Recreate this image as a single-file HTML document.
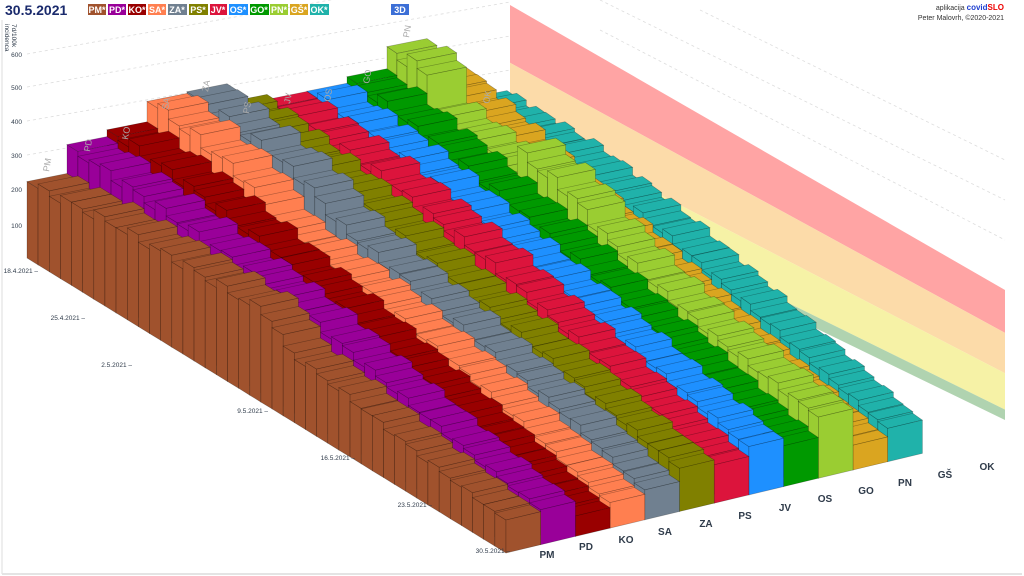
<!DOCTYPE html>
<html><head><meta charset="utf-8"><style>
html,body{margin:0;padding:0;background:#fff;}
svg{display:block;font-family:"Liberation Sans",sans-serif;}
</style></head><body>
<svg id="s" width="1024" height="576" viewBox="0 0 1024 576" xmlns="http://www.w3.org/2000/svg">
<rect x="0" y="0" width="1024" height="576" fill="#fff"/>
<line x1="2" y1="20" x2="2" y2="574" stroke="#ddd"/>
<line x1="2" y1="574" x2="1022" y2="574" stroke="#e4e4e4" stroke-width="2"/>
<g stroke="#ddd" stroke-width="0.8" stroke-dasharray="3,3" fill="none">
<line x1="27" y1="54" x2="420" y2="-16"/>
<line x1="27" y1="87" x2="510" y2="2"/>
<line x1="27" y1="121" x2="510" y2="36"/>
<line x1="27" y1="155" x2="510" y2="70"/>
<line x1="27" y1="189" x2="510" y2="104"/>
<line x1="27" y1="225" x2="510" y2="140"/>
<line x1="600" y1="30" x2="1005" y2="240"/>
<line x1="600" y1="0" x2="1005" y2="200"/>
<line x1="700" y1="10" x2="1005" y2="160"/>
</g>
<g id="plane"></g>
<g id="bars"></g>
<g font-size="9" fill="#aaa">
<text transform="translate(49,172) rotate(-80)">PM</text>
<text transform="translate(90,152) rotate(-80)">PD</text>
<text transform="translate(128,140) rotate(-80)">KO</text>
<text transform="translate(168,110) rotate(-80)">SA</text>
<text transform="translate(208,92) rotate(-80)">ZA</text>
<text transform="translate(249,114) rotate(-80)">PS</text>
<text transform="translate(290,104) rotate(-80)">JV</text>
<text transform="translate(330,102) rotate(-80)">OS</text>
<text transform="translate(369,84) rotate(-80)">GO</text>
<text transform="translate(409,38) rotate(-80)">PN</text>
<text transform="translate(489,104) rotate(-80)">OK</text>
</g>
<g font-size="6.5" fill="#2f3b4a" text-anchor="end">
<text x="22" y="57">600</text><text x="22" y="90">500</text><text x="22" y="124">400</text>
<text x="22" y="158">300</text><text x="22" y="192">200</text><text x="22" y="228">100</text>
<text x="38" y="273">18.4.2021 –</text>
<text x="85" y="320">25.4.2021 –</text>
<text x="132" y="367">2.5.2021 –</text>
<text x="268" y="413">9.5.2021 –</text>
<text x="355" y="460">16.5.2021 –</text>
<text x="432" y="507">23.5.2021 –</text>
<text x="510" y="553">30.5.2021 –</text>
</g>
<g font-size="6.5" fill="#2f3b4a">
<text transform="translate(12,24) rotate(90)">7d/100k</text>
<text transform="translate(5,24) rotate(90)">incidenca</text>
</g>
<g font-size="10" fill="#2f3b4a" font-weight="bold" text-anchor="middle">
<text x="547" y="558">PM</text><text x="586" y="550">PD</text><text x="626" y="543">KO</text>
<text x="665" y="535">SA</text><text x="706" y="527">ZA</text><text x="745" y="519">PS</text>
<text x="785" y="511">JV</text><text x="825" y="502">OS</text><text x="866" y="494">GO</text>
<text x="905" y="486">PN</text><text x="945" y="478">GŠ</text><text x="987" y="470">OK</text>
</g>
<text x="5" y="15" font-size="14" font-weight="bold" fill="#1a2a6c">30.5.2021</text>
<g font-size="9" font-weight="bold" fill="#fff" text-anchor="middle">
<rect x="88" y="4" width="18" height="11" fill="#a0522d"/><text x="97" y="13">PM*</text>
<rect x="108" y="4" width="18" height="11" fill="#990099"/><text x="117" y="13">PD*</text>
<rect x="128" y="4" width="18" height="11" fill="#990000"/><text x="137" y="13">KO*</text>
<rect x="148" y="4" width="18" height="11" fill="#ff7f50"/><text x="157" y="13">SA*</text>
<rect x="168" y="4" width="19" height="11" fill="#708090"/><text x="177" y="13">ZA*</text>
<rect x="189" y="4" width="19" height="11" fill="#808000"/><text x="198" y="13">PS*</text>
<rect x="210" y="4" width="17" height="11" fill="#dc143c"/><text x="218" y="13">JV*</text>
<rect x="229" y="4" width="19" height="11" fill="#1e90ff"/><text x="238" y="13">OS*</text>
<rect x="250" y="4" width="19" height="11" fill="#009900"/><text x="259" y="13">GO*</text>
<rect x="270" y="4" width="18" height="11" fill="#9acd32"/><text x="279" y="13">PN*</text>
<rect x="290" y="4" width="18" height="11" fill="#daa520"/><text x="299" y="13">GŠ*</text>
<rect x="310" y="4" width="19" height="11" fill="#20b2aa"/><text x="319" y="13">OK*</text>
<rect x="391" y="4" width="18" height="11" fill="#3c6fd6"/><text x="400" y="13">3D</text>
</g>
<text x="1004" y="10" font-size="7" fill="#333" text-anchor="end">aplikacija <tspan font-weight="bold" font-size="8" fill="#1e3fd0">covid</tspan><tspan font-weight="bold" font-size="8" fill="#e00">SLO</tspan></text>
<text x="1004" y="20" font-size="7" fill="#333" text-anchor="end">Peter Malovrh, ©2020-2021</text>
</svg>
<script>
(function(){
var NS="http://www.w3.org/2000/svg";
function P(c,t,h){var cdx=40-5.3*t/43,cdy=8+0.3*t/43;
 return [27+11.14*t+c*cdx, 258+6.86*t-c*cdy-h*0.34];}
function poly(g,pts,fill,stroke,op){var p=document.createElementNS(NS,"polygon");
 p.setAttribute("points",pts.map(function(q){return q[0].toFixed(1)+","+q[1].toFixed(1)}).join(" "));
 p.setAttribute("fill",fill); if(stroke){p.setAttribute("stroke",stroke);p.setAttribute("stroke-width","0.6");}
 if(op!=null)p.setAttribute("fill-opacity",op); g.appendChild(p);}
var pl=document.getElementById("plane");
var bands=[[0,0.33,"#ff9a9a",0.9],[0.33,0.64,"#fbd59a",0.85],[0.64,0.92,"#f4f096",0.85],[0.92,1,"#9cc89c",0.8]];
function pp(f,side){ if(side==0)return [510,5+f*175]; return [1005,290+f*130];}
bands.forEach(function(b){poly(pl,[pp(b[0],0),pp(b[0],1),pp(b[1],1),pp(b[1],0)],b[2],null,b[3]);});
var cols=["#a0522d","#990099","#990000","#ff7f50","#708090","#808000","#dc143c","#1e90ff","#009900","#9acd32","#daa520","#20b2aa"];
var keys=[
[[0,225],[7,255],[14,265],[21,270],[23,200],[28,175],[35,130],[42,97]],
[[0,310],[8,290],[15,270],[22,240],[30,180],[36,140],[42,103]],
[[0,330],[6,320],[14,280],[22,230],[30,170],[36,120],[42,60]],
[[0,390],[3,380],[8,350],[12,260],[20,240],[30,180],[42,75]],
[[0,395],[10,360],[14,290],[25,220],[35,160],[42,88]],
[[0,340],[12,300],[20,250],[30,200],[42,127]],
[[0,325],[10,320],[20,280],[30,210],[42,113]],
[[0,326],[10,310],[20,260],[30,210],[42,142]],
[[0,345],[8,320],[20,270],[30,200],[42,120]],
[[0,410],[3,410],[4,310],[10,300],[12,290],[13,360],[18,340],[20,300],[25,250],[32,210],[42,180]],
[[0,300],[10,250],[20,200],[30,140],[42,73]],
[[0,210],[10,240],[20,215],[30,165],[42,98]]];
function val(i,d){var k=keys[i];for(var j=0;j<k.length-1;j++){if(d>=k[j][0]&&d<=k[j+1][0]){var f=(d-k[j][0])/(k[j+1][0]-k[j][0]);
 var v=k[j][1]+f*(k[j+1][1]-k[j][1]); if(d>0&&d<42)v*=1+0.05*Math.sin(d*2.3+i*1.7); return v;}} return k[k.length-1][1];}
var g=document.getElementById("bars");
for(var i=11;i>=0;i--){for(var d=0;d<43;d++){var h=val(i,d),c=cols[i],st="rgba(0,0,0,0.3)";
 poly(g,[P(i,d,0),P(i,d+1,0),P(i,d+1,h),P(i,d,h)],c,st);
 poly(g,[P(i,d,h),P(i+1,d,h),P(i+1,d+1,h),P(i,d+1,h)],c,st);
 poly(g,[P(i,d+1,0),P(i+1,d+1,0),P(i+1,d+1,h),P(i,d+1,h)],c,st);}}
})();
</script>
</body></html>
